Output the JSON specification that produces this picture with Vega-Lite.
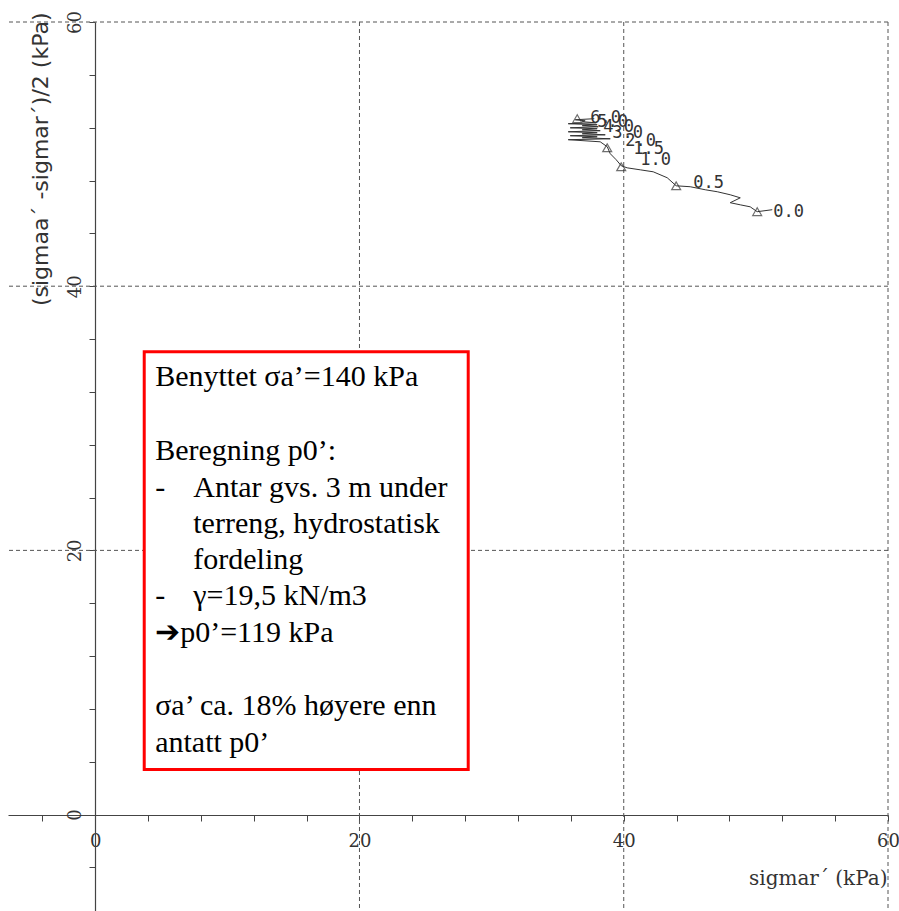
{
  "$schema": "https://vega.github.io/schema/vega-lite/v6.json",
  "width": 880,
  "height": 889,
  "autosize": {"type": "none"},
  "padding": {"left": 8, "top": 22, "right": 11, "bottom": 0},
  "background": "white",
  "config": {"view": {"stroke": null}},
  "datasets": {
    "grid": [{"v": 20}, {"v": 40}, {"v": 60}],
    "note": [{
      "b1": ["Benyttet σa’=140 kPa"],
      "b2": ["Beregning p0’:", "-"],
      "b3": ["-", "➔p0’=119 kPa"],
      "b4": ["σa’ ca. 18% høyere enn", "antatt p0’"],
      "indent": ["Antar gvs. 3 m under", "terreng, hydrostatisk", "fordeling", "γ=19,5 kN/m3"]
    }],
    "path": [
      {"i": 1, "x": 51.24, "y": 45.79},
      {"i": 2, "x": 50.10, "y": 45.64},
      {"i": 3, "x": 49.57, "y": 46.01},
      {"i": 4, "x": 48.82, "y": 46.16},
      {"i": 5, "x": 48.06, "y": 46.32},
      {"i": 6, "x": 48.82, "y": 46.69},
      {"i": 7, "x": 48.06, "y": 46.92},
      {"i": 8, "x": 47.08, "y": 47.15},
      {"i": 9, "x": 46.17, "y": 47.30},
      {"i": 10, "x": 45.03, "y": 47.53},
      {"i": 11, "x": 43.97, "y": 47.60},
      {"i": 12, "x": 43.29, "y": 48.21},
      {"i": 13, "x": 42.23, "y": 48.66},
      {"i": 14, "x": 41.25, "y": 48.81},
      {"i": 15, "x": 40.26, "y": 48.96},
      {"i": 16, "x": 39.81, "y": 49.12},
      {"i": 17, "x": 39.43, "y": 49.57},
      {"i": 18, "x": 38.98, "y": 50.03},
      {"i": 19, "x": 38.75, "y": 50.56},
      {"i": 20, "x": 38.22, "y": 50.93},
      {"i": 21, "x": 35.80, "y": 51.09},
      {"i": 22, "x": 38.98, "y": 51.16},
      {"i": 23, "x": 36.86, "y": 51.24},
      {"i": 24, "x": 37.99, "y": 51.31},
      {"i": 25, "x": 35.95, "y": 51.39},
      {"i": 26, "x": 38.60, "y": 51.46},
      {"i": 27, "x": 36.86, "y": 51.54},
      {"i": 28, "x": 37.99, "y": 51.62},
      {"i": 29, "x": 35.80, "y": 51.69},
      {"i": 30, "x": 38.22, "y": 51.77},
      {"i": 31, "x": 36.86, "y": 51.84},
      {"i": 32, "x": 37.99, "y": 51.92},
      {"i": 33, "x": 35.95, "y": 51.99},
      {"i": 34, "x": 38.07, "y": 52.07},
      {"i": 35, "x": 36.86, "y": 52.15},
      {"i": 36, "x": 37.99, "y": 52.22},
      {"i": 37, "x": 35.80, "y": 52.30},
      {"i": 38, "x": 37.92, "y": 52.37},
      {"i": 39, "x": 36.86, "y": 52.45},
      {"i": 40, "x": 37.08, "y": 52.52},
      {"i": 41, "x": 36.33, "y": 52.60},
      {"i": 42, "x": 37.77, "y": 52.68}
    ],
    "tri": [
      {"x": 50.10, "y": 45.64},
      {"x": 43.97, "y": 47.60},
      {"x": 39.81, "y": 49.04},
      {"x": 38.75, "y": 50.48},
      {"x": 36.48, "y": 52.68}
    ],
    "labels": [
      {"x": 51.31, "y": 45.64, "t": "0.0"},
      {"x": 45.26, "y": 47.83, "t": "0.5"},
      {"x": 41.25, "y": 49.57, "t": "1.0"},
      {"x": 40.72, "y": 50.40, "t": "1.5"},
      {"x": 40.11, "y": 51.01, "t": "2.0"},
      {"x": 39.13, "y": 51.62, "t": "3.0"},
      {"x": 38.45, "y": 52.07, "t": "4.0"},
      {"x": 37.99, "y": 52.45, "t": "5.0"},
      {"x": 37.46, "y": 52.75, "t": "6.0"}
    ]
  },
  "layer": [
    {
      "data": {"name": "path"},
      "mark": {"type": "line", "stroke": "#333", "strokeWidth": 1},
      "encoding": {
        "x": {
          "field": "x", "type": "quantitative",
          "scale": {"domain": [-6.6, 60], "nice": false, "zero": false},
          "axis": {
            "title": "sigmar´  (kPa)",
            "offset": -96,
            "values": [-4, 0, 4, 8, 12, 16, 20, 24, 28, 32, 36, 40, 44, 48, 52, 56, 60],
            "labelExpr": "(datum.value % 20 === 0 && datum.value >= 0) ? datum.label : ''",
            "grid": false,
            "domainColor": "#444", "domainWidth": 1.2,
            "tickColor": "#444", "tickSize": 6, "tickWidth": 1,
            "labelFont": "DejaVu Serif", "labelFontSize": 18, "labelColor": "#333",
            "labelPadding": 11, "labelFlush": false, "labelOverlap": false,
            "titleFont": "DejaVu Serif", "titleFontSize": 20, "titleFontWeight": "normal", "titleColor": "#333",
            "titleX": 879, "titleY": 69, "titleAlign": "right", "titleBaseline": "alphabetic", "titleAngle": 0
          }
        },
        "y": {
          "field": "y", "type": "quantitative",
          "scale": {"domain": [-7.3, 60], "nice": false, "zero": false},
          "axis": {
            "title": "(sigmaa´ -sigmar´)/2 (kPa)",
            "offset": -87,
            "values": [-4, 0, 4, 8, 12, 16, 20, 24, 28, 32, 36, 40, 44, 48, 52, 56, 60],
            "labelExpr": "(datum.value % 20 === 0 && datum.value >= 0) ? datum.label : ''",
            "grid": false,
            "domainColor": "#444", "domainWidth": 1.2,
            "tickColor": "#444", "tickSize": 6, "tickWidth": 1,
            "labelFont": "DejaVu Serif", "labelFontSize": 18, "labelColor": "#333",
            "labelAngle": 270, "labelAlign": "center", "labelBaseline": "bottom",
            "labelPadding": 5, "labelFlush": false, "labelOverlap": false,
            "titleFont": "DejaVu Sans", "titleFontSize": 22, "titleFontWeight": "normal", "titleColor": "#333",
            "titleX": -55, "titleY": -10, "titleAngle": 270, "titleAlign": "right", "titleBaseline": "middle"
          }
        },
        "order": {"field": "i", "type": "quantitative"}
      }
    },
    {
      "data": {"name": "grid"},
      "mark": {"type": "rule", "stroke": "#555", "strokeWidth": 1, "strokeDash": [4, 3]},
      "encoding": {
        "x": {"field": "v", "type": "quantitative", "scale": {"domain": [-6.6, 60], "nice": false, "zero": false}}
      }
    },
    {
      "data": {"name": "grid"},
      "mark": {"type": "rule", "stroke": "#555", "strokeWidth": 1, "strokeDash": [4, 3]},
      "encoding": {
        "y": {"field": "v", "type": "quantitative", "scale": {"domain": [-7.3, 60], "nice": false, "zero": false}}
      }
    },
    {
      "data": {"name": "tri"},
      "mark": {"type": "point", "shape": "triangle-up", "filled": false, "stroke": "#333", "strokeWidth": 1.2, "size": 80},
      "encoding": {
        "x": {"field": "x", "type": "quantitative", "scale": {"domain": [-6.6, 60], "nice": false, "zero": false}},
        "y": {"field": "y", "type": "quantitative", "scale": {"domain": [-7.3, 60], "nice": false, "zero": false}}
      }
    },
    {
      "data": {"name": "labels"},
      "mark": {"type": "text", "align": "left", "baseline": "middle", "font": "DejaVu Sans Mono", "fontSize": 17, "fill": "#333"},
      "encoding": {
        "x": {"field": "x", "type": "quantitative", "scale": {"domain": [-6.6, 60], "nice": false, "zero": false}},
        "y": {"field": "y", "type": "quantitative", "scale": {"domain": [-7.3, 60], "nice": false, "zero": false}},
        "text": {"field": "t", "type": "nominal"}
      }
    },
    {
      "data": {"name": "note"},
      "mark": {"type": "rect", "fill": "white", "stroke": "#ff0000", "strokeWidth": 3},
      "encoding": {
        "x": {"datum": 3.71, "type": "quantitative", "scale": {"domain": [-6.6, 60], "nice": false, "zero": false}},
        "x2": {"datum": 28.23},
        "y": {"datum": 35.04, "type": "quantitative", "scale": {"domain": [-7.3, 60], "nice": false, "zero": false}},
        "y2": {"datum": 3.41}
      }
    },
    {
      "data": {"name": "note"},
      "mark": {"type": "text", "align": "left", "baseline": "alphabetic", "font": "Liberation Serif", "fontSize": 30, "lineHeight": 37, "fill": "black"},
      "encoding": {
        "x": {"datum": 4.54, "type": "quantitative", "scale": {"domain": [-6.6, 60], "nice": false, "zero": false}},
        "y": {"datum": 32.47, "type": "quantitative", "scale": {"domain": [-7.3, 60], "nice": false, "zero": false}},
        "text": {"field": "b1", "type": "nominal"}
      }
    },
    {
      "data": {"name": "note"},
      "mark": {"type": "text", "align": "left", "baseline": "alphabetic", "font": "Liberation Serif", "fontSize": 30, "lineHeight": 37, "fill": "black"},
      "encoding": {
        "x": {"datum": 4.54, "type": "quantitative", "scale": {"domain": [-6.6, 60], "nice": false, "zero": false}},
        "y": {"datum": 26.87, "type": "quantitative", "scale": {"domain": [-7.3, 60], "nice": false, "zero": false}},
        "text": {"field": "b2", "type": "nominal"}
      }
    },
    {
      "data": {"name": "note"},
      "mark": {"type": "text", "align": "left", "baseline": "alphabetic", "font": "Liberation Serif", "fontSize": 30, "lineHeight": 37, "fill": "black"},
      "encoding": {
        "x": {"datum": 4.54, "type": "quantitative", "scale": {"domain": [-6.6, 60], "nice": false, "zero": false}},
        "y": {"datum": 15.89, "type": "quantitative", "scale": {"domain": [-7.3, 60], "nice": false, "zero": false}},
        "text": {"field": "b3", "type": "nominal"}
      }
    },
    {
      "data": {"name": "note"},
      "mark": {"type": "text", "align": "left", "baseline": "alphabetic", "font": "Liberation Serif", "fontSize": 30, "lineHeight": 37, "fill": "black"},
      "encoding": {
        "x": {"datum": 4.54, "type": "quantitative", "scale": {"domain": [-6.6, 60], "nice": false, "zero": false}},
        "y": {"datum": 7.57, "type": "quantitative", "scale": {"domain": [-7.3, 60], "nice": false, "zero": false}},
        "text": {"field": "b4", "type": "nominal"}
      }
    },
    {
      "data": {"name": "note"},
      "mark": {"type": "text", "align": "left", "baseline": "alphabetic", "font": "Liberation Serif", "fontSize": 30, "lineHeight": 36, "fill": "black"},
      "encoding": {
        "x": {"datum": 7.42, "type": "quantitative", "scale": {"domain": [-6.6, 60], "nice": false, "zero": false}},
        "y": {"datum": 24.07, "type": "quantitative", "scale": {"domain": [-7.3, 60], "nice": false, "zero": false}},
        "text": {"field": "indent", "type": "nominal"}
      }
    }
  ]
}
